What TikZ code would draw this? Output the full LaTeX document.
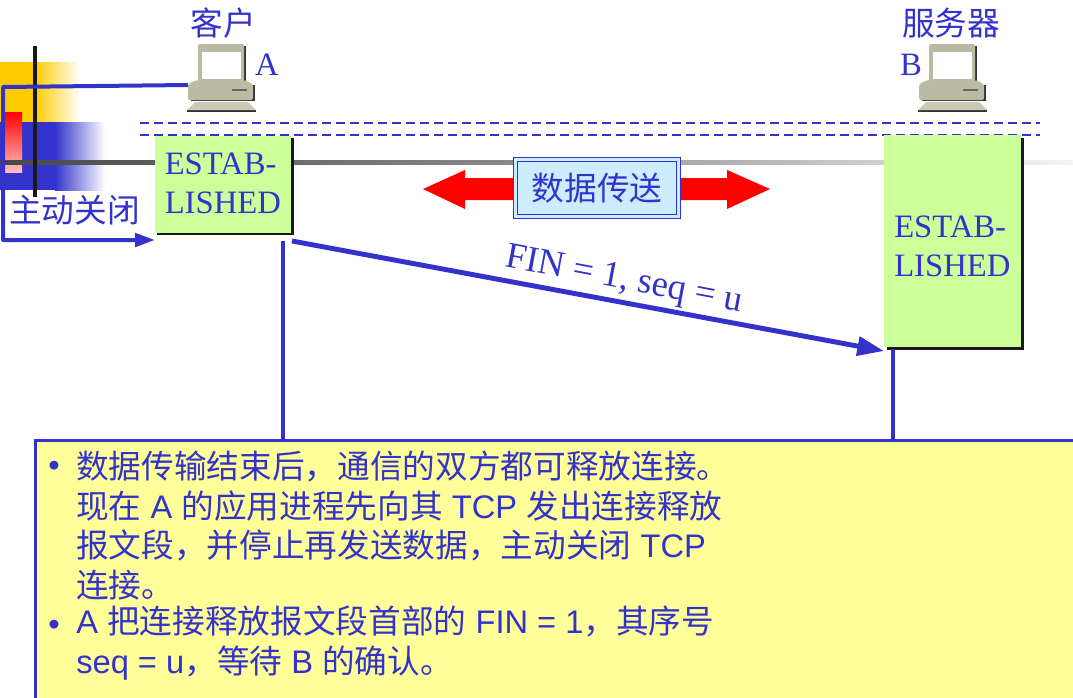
\documentclass[tikz,border=0pt]{standalone}
\usepackage{fontspec}
\setmainfont{Liberation Serif}
\newfontfamily\cjk{Noto Sans CJK SC}
\newfontfamily\arial{Liberation Sans}
\usetikzlibrary{arrows.meta}
\definecolor{tcpblue}{HTML}{3333CC}
\definecolor{barorange}{HTML}{FFCC00}
\definecolor{estabgreen}{HTML}{CCFF99}
\definecolor{databox}{HTML}{CCECFF}
\definecolor{noteyellow}{HTML}{FFFF99}
\definecolor{pcgray}{HTML}{BBBBA3}
\tikzstyle{estab}=[draw=none,fill=estabgreen,text=tcpblue,align=left,font=\fontsize{24.5}{29.5}\selectfont,inner sep=0]
\tikzstyle{label}=[text=tcpblue,inner sep=0,font=\fontsize{24.5}{29}\selectfont]
\tikzstyle{arrow}=[tcpblue,line width=3.7pt,-{Triangle[length=20pt,width=14pt]}]
\tikzstyle{wire}=[tcpblue,line width=3pt]
\tikzstyle{closeline}=[wire,line join=round,-{Triangle[length=15pt,width=10pt]}]
\tikzstyle{dashline}=[tcpblue,line width=1.5pt,dash pattern=on 6.75pt off 3.75pt]
\tikzstyle{note}=[text=tcpblue,align=left,inner sep=0,anchor=north west,font=\arial\fontsize{24.5}{29.55}\selectfont]
\newcommand{\pc}[1]{%
\begin{scope}[shift={(#1)}]
\fill[black!80] (199,46) rectangle (245.5,82);
\fill[pcgray,rounded corners=1.5] (198,44) rectangle (244,82);
\fill[white] (202,52) rectangle (241,79);
\fill[black!80] (191,85) rectangle (254.5,101);
\fill[pcgray,rounded corners=1.5] (188,84) -- (197,80) -- (244,80) -- (253,84) -- (253,100) -- (188,100) -- cycle;
\draw[black!60,line width=.8pt] (232,90) -- (247,90);
\fill[black!80] (187,110) rectangle (256,112);
\fill[pcgray!80] (187,110) -- (195,102) -- (248,102) -- (256,110) -- cycle;
\end{scope}}
\begin{document}
\begin{tikzpicture}[x=.75pt,y=-.75pt]
\useasboundingbox (0,0) rectangle (1073,697);
% background bars
\fill[barorange] (0,62) rectangle (36,122);
\shade[left color=barorange,right color=white] (35,62) rectangle (80,122);
\fill[tcpblue] (0,122) rectangle (56,190);
\shade[left color=tcpblue,right color=white] (55,122) rectangle (105,190);
\shade[top color=red,bottom color=red!25] (5,112) rectangle (22,172);
\shade[left color=black!72,right color=black!4,middle color=black!45] (0,160) rectangle (1073,164);
\draw[black!90,line width=3.4pt] (35,46) -- (35,197);
% computers
\pc{0,0}
\pc{731,0}
\node[label] (client) at (223,23) {\cjk 客户};
\node[label] (nameA) at (267,65) {A};
\node[label] (server) at (951,23) {\cjk 服务器};
\node[label] (nameB) at (911,65) {B};
\coordinate (pcA) at (188,85);
% dashes
\draw[dashline] (140,123) -- (1040,123);
\draw[dashline] (140,135) -- (1040,135);
% state boxes
\fill[black!90] (157,138) rectangle (293.5,234.5);
\node[estab,minimum width=136*.75pt,minimum height=97*.75pt] (estabA) at (222.5,184) {};
\node[estab,anchor=west] (textA) at (164.5,183.5) {ESTAB-\\LISHED};
\fill[black!90] (887,138) rectangle (1024,350);
\node[estab,minimum width=137*.75pt,minimum height=212*.75pt] (estabB) at (952.5,241) {};
\node[estab,anchor=west] (textB) at (894,246.5) {ESTAB-\\LISHED};
% data transfer
\fill[red] (423,189) -- (465,170) -- (465,178) -- (727,178) -- (727,170) -- (770,189) -- (727,209) -- (727,200) -- (465,200) -- (465,209) -- cycle;
\node[draw=tcpblue,double=databox,fill=databox,double distance=2pt,line width=1.1pt,minimum width=122.5pt,minimum height=42.5pt,inner sep=0,text=tcpblue,font=\cjk\fontsize{24.5}{29}\selectfont] (data) at (597,188) {\raisebox{2pt}{数据传送}};
% close path
\node[label,anchor=west] (close) at (9,210) {\cjk 主动关闭};
\coordinate (corner1) at (3,87);
\coordinate (corner2) at (3,240);
\coordinate (endA) at (155,240);
\draw[closeline] (pcA) -- (corner1) -- (corner2) -- (endA);
% segment
\coordinate (finA) at (292,241);
\coordinate (finB) at (884,351);
\draw[arrow] (finA) -- (finB);
\node[label,font=\fontsize{27.5}{29}\selectfont,rotate=-10.7] (fin) at (624,281) {FIN = 1, seq = u};
% timelines
\coordinate (lineA) at (283,241);
\coordinate (lineB) at (893,349);
\draw[wire] (lineA) -- (283,440);
\draw[wire] (lineB) -- (893,440);
% note
\node[draw=tcpblue,line width=2pt,fill=noteyellow,anchor=north west,minimum width=1042*.75pt,minimum height=262*.75pt,inner sep=0] (notebox) at (34,439) {};
\node[note] (bullet1) at (48,461) {•};
\node[note] (text1) at (76,451) {{\cjk 数据传输结束后，通信的双方都可释放连接。}\\{\cjk 现在} A {\cjk 的应用进程先向其} TCP {\cjk 发出连接释放}\\{\cjk 报文段，并停止再发送数据，主动关闭} TCP\\{\cjk 连接。}};
\node[note] (bullet2) at (48,620) {•};
\node[note] (text2) at (76,606) {A {\cjk 把连接释放报文段首部的} FIN = 1{\cjk ，其序号}\\seq = u{\cjk ，等待} B {\cjk 的确认。}};
\end{tikzpicture}
\end{document}
